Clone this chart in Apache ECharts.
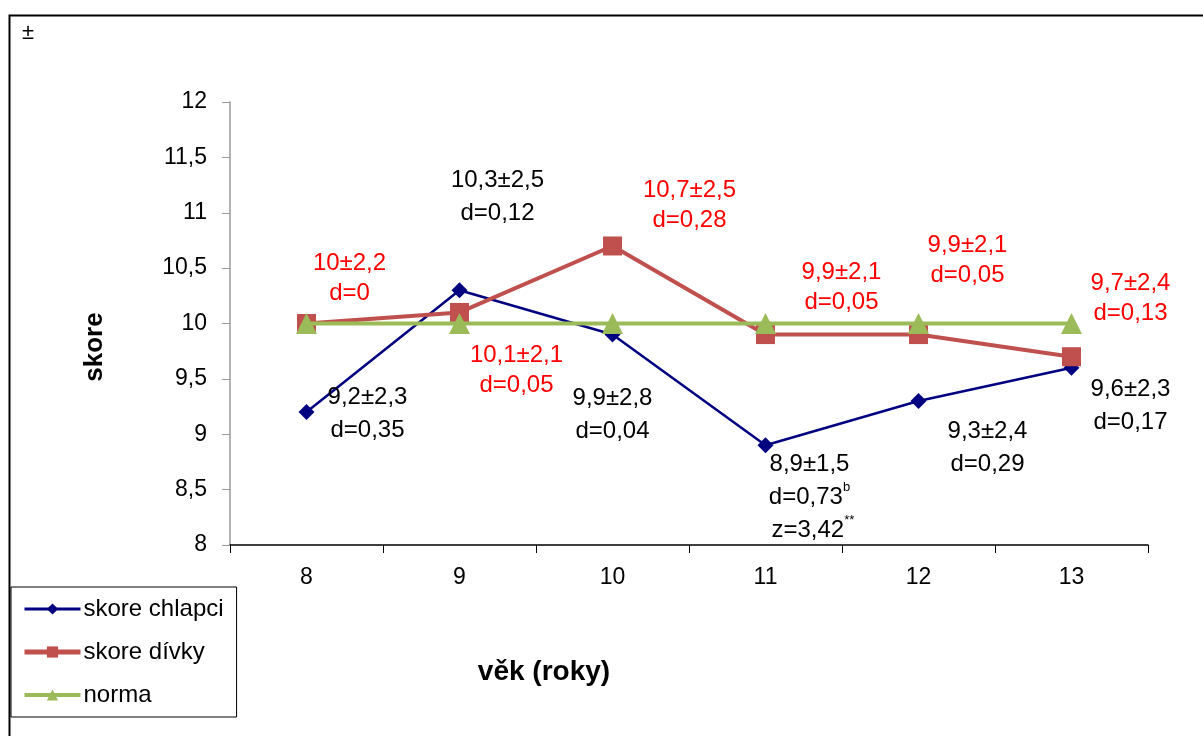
<!DOCTYPE html>
<html><head><meta charset="utf-8">
<script src="https://cdn.jsdelivr.net/npm/echarts@6/dist/echarts.min.js"></script>
<style>html,body{margin:0;padding:0;background:#fff}#c{width:1203px;height:736px}</style>
</head><body><div id="c"></div>
<script>
const categories = ['8','9','10','11','12','13'];
const boys = [9.2, 10.3, 9.9, 8.9, 9.3, 9.6];
const girls = [10, 10.1, 10.7, 9.9, 9.9, 9.7];
const norma = [10, 10, 10, 10, 10, 10];
const boysText = ['9,2±2,3\nd=0,35','10,3±2,5\nd=0,12','9,9±2,8\nd=0,04','8,9±1,5\nd=0,73{sup|b}\n z=3,42{sup|**}','9,3±2,4\nd=0,29','9,6±2,3\nd=0,17'];
const girlsText = ['10±2,2\nd=0','10,1±2,1\nd=0,05','10,7±2,5\nd=0,28','9,9±2,1\nd=0,05','9,9±2,1\nd=0,05','9,7±2,4\nd=0,13'];
const boysOffset = [[61,2],[38,-93],[0,80],[44,52],[69,47],[59,38]];
const girlsOffset = [[43,-45],[57,58],[77,-41],[76,-47],[49,-74],[59,-58]];
const xAxisTitle = 'věk (roky)';
const yAxisTitle = 'skore';

const font = '"Liberation Sans", Arial, sans-serif';
function mk(vals, texts, offs, color, lh) {
  return vals.map((v,i)=>({value:v, label:{show:true, formatter:texts[i], offset:offs[i], position:'inside',
    color:color, fontSize:24, fontFamily:font, lineHeight:lh, align:'center', verticalAlign:'middle',
    rich:{sup:{fontSize:13, color:color, verticalAlign:'top', lineHeight:lh, padding:[0,0,12,0], fontFamily:font}}}}));
}
const chart = echarts.init(document.getElementById('c'), null, {renderer:'canvas'});
chart.setOption({
  animation:false,
  backgroundColor:'#fff',
  graphic:[
    {type:'rect', z:-1, shape:{x:9.5,y:15.5,width:1300,height:800}, style:{fill:'#fff', stroke:'#000', lineWidth:2}},
    {type:'text', left:22, top:22, style:{text:'±', font:'22px '+font, fill:'#000'}},
    {type:'text', x:544, y:672, style:{text:xAxisTitle, font:'bold 28px '+font, fill:'#000', textAlign:'center', textVerticalAlign:'middle'}},
    {type:'text', x:95, y:347, rotation:Math.PI/2, style:{text:yAxisTitle, font:'bold 26px '+font, fill:'#000', textAlign:'center', textVerticalAlign:'middle'}}
  ],
  grid:{left:230, right:55, top:102, bottom:191},
  legend:{left:11, top:587, orient:'vertical', itemWidth:56, itemHeight:14, itemGap:19,
    padding:[10,13,10,11], borderColor:'#000', borderWidth:1, backgroundColor:'#fff',
    textStyle:{fontSize:24, lineHeight:24, fontFamily:font, color:'#000', padding:[0,0,0,-2]},
    data:[{name:'skore chlapci', lineStyle:{width:3}},{name:'skore dívky', lineStyle:{width:5}},{name:'norma', lineStyle:{width:4}}]},
  xAxis:{type:'category', data:categories, boundaryGap:true,
    axisLine:{lineStyle:{color:'#000', width:1.5}},
    axisTick:{show:true, length:8, lineStyle:{color:'#000'}},
    axisLabel:{fontSize:23, fontFamily:font, color:'#000', margin:21},
    splitLine:{show:false}},
  yAxis:{type:'value', min:8, max:12, interval:0.5,
    axisLine:{show:true, lineStyle:{color:'#999', width:1.5}},
    axisTick:{show:true, length:8, lineStyle:{color:'#999'}},
    axisLabel:{fontSize:23, fontFamily:font, color:'#000', margin:23,
      formatter:v=>String(v).replace('.',',')},
    splitLine:{show:false}},
  series:[
    {name:'skore chlapci', type:'line', data:mk(boys, boysText, boysOffset, '#000', 33),
      color:'#000080', lineStyle:{width:2.5, color:'#000080'}, symbol:'diamond', symbolSize:16,
      itemStyle:{color:'#000080'}, z:3},
    {name:'skore dívky', type:'line', data:mk(girls, girlsText, girlsOffset, '#ff0000', 30),
      color:'#C0504D', lineStyle:{width:4, color:'#C0504D'}, symbol:'rect', symbolSize:19,
      itemStyle:{color:'#C0504D'}, z:4},
    {name:'norma', type:'line', data:norma,
      color:'#9BBB59', lineStyle:{width:4, color:'#9BBB59'}, symbol:'triangle', symbolSize:21,
      itemStyle:{color:'#9BBB59'}, z:5}
  ]
});
</script></body></html>
